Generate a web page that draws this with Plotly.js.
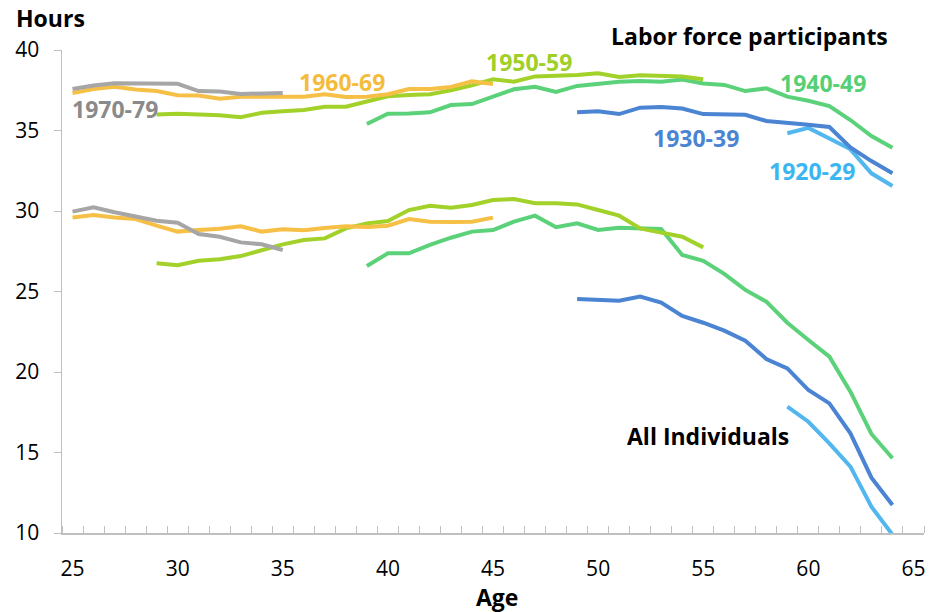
<!DOCTYPE html>
<html>
<head>
<meta charset="utf-8">
<script src="https://cdn.plot.ly/plotly-3.0.1.min.js"></script>
<style>html,body{margin:0;padding:0;background:#fff}#chart{width:932px;height:612px}</style>
</head>
<body>
<div id="chart"></div>
<script>
// Ages for each birth cohort
const ages1970 = [25,26,27,28,29,30,31,32,33,34,35];
const ages1960 = [25,26,27,28,29,30,31,32,33,34,35,36,37,38,39,40,41,42,43,44,45];
const ages1950 = [29,30,31,32,33,34,35,36,37,38,39,40,41,42,43,44,45,46,47,48,49,50,51,52,53,54,55];
const ages1940 = [39,40,41,42,43,44,45,46,47,48,49,50,51,52,53,54,55,56,57,58,59,60,61,62,63,64];
const ages1930 = [49,50,51,52,53,54,55,56,57,58,59,60,61,62,63,64];
const ages1920 = [59,60,61,62,63,64];

// Weekly hours, labor force participants
const lf1970 = [37.58,37.8,37.93,37.93,37.93,37.9,37.45,37.42,37.27,37.27,37.33];
const lf1960 = [37.33,37.58,37.72,37.55,37.45,37.19,37.17,36.98,37.1,37.1,37.13,37.1,37.25,37.08,37.1,37.25,37.58,37.58,37.7,38.05,37.89];
const lf1950 = [36.0,36.04,36.0,35.95,35.82,36.1,36.19,36.28,36.48,36.48,36.8,37.12,37.2,37.25,37.5,37.8,38.18,38.03,38.36,38.38,38.45,38.55,38.32,38.43,38.39,38.35,38.18];
const lf1940 = [35.4,36.04,36.06,36.13,36.58,36.64,37.1,37.56,37.72,37.39,37.77,37.93,38.03,38.07,38.03,38.17,37.92,37.83,37.45,37.62,37.1,36.85,36.52,35.65,34.66,33.93];
const lf1930 = [36.13,36.2,36.02,36.42,36.46,36.36,36.02,36.02,35.98,35.59,35.49,35.36,35.22,33.95,33.1,32.34];
const lf1920 = [34.83,35.16,34.5,33.83,32.34,31.55];

// Weekly hours, all individuals
const all1970 = [29.96,30.23,29.92,29.65,29.4,29.27,28.57,28.4,28.05,27.93,27.58];
const all1960 = [29.59,29.75,29.59,29.5,29.09,28.72,28.82,28.9,29.05,28.72,28.86,28.8,28.94,29.05,29.0,29.09,29.5,29.34,29.32,29.34,29.59];
const all1950 = [26.75,26.63,26.91,27.0,27.2,27.58,27.93,28.2,28.3,28.92,29.23,29.38,30.06,30.33,30.2,30.37,30.68,30.74,30.48,30.48,30.41,30.06,29.71,28.92,28.65,28.4,27.74];
const all1940 = [26.58,27.37,27.37,27.89,28.34,28.72,28.82,29.34,29.71,28.99,29.24,28.82,28.96,28.9,28.88,27.27,26.91,26.1,25.1,24.37,23.06,21.99,20.95,18.78,16.15,14.64];
const all1930 = [24.53,24.47,24.43,24.68,24.31,23.48,23.06,22.57,21.94,20.81,20.23,18.88,18.05,16.19,13.44,11.74];
const all1920 = [17.85,16.91,15.57,14.12,11.63,9.9];

const xTickVals = [25,30,35,40,45,50,55,60,65];
const yTickVals = [10,15,20,25,30,35,40];

const colors = {
  '1920-29': '#52b7ee',
  '1930-39': '#4a84d2',
  '1940-49': '#5bd27a',
  '1950-59': '#a2d12a',
  '1960-69': '#f6bf45',
  '1970-79': '#a6a6a6'
};
const labelColors = {
  '1920-29': '#3bb6f0',
  '1930-39': '#4a84d2',
  '1940-49': '#56cf75',
  '1950-59': '#a0cf26',
  '1960-69': '#f5bc3c',
  '1970-79': '#8a8a8a'
};

const series = [
  ['1920-29', ages1920, lf1920, all1920],
  ['1930-39', ages1930, lf1930, all1930],
  ['1940-49', ages1940, lf1940, all1940],
  ['1950-59', ages1950, lf1950, all1950],
  ['1960-69', ages1960, lf1960, all1960],
  ['1970-79', ages1970, lf1970, all1970]
];

const traces = [];
series.forEach(([name, ages, lf, all]) => {
  traces.push({x: ages, y: all, type: 'scatter', mode: 'lines', name: name,
    line: {color: colors[name], width: 4}, showlegend: false, hoverinfo: 'x+y'});
  traces.push({x: ages, y: lf, type: 'scatter', mode: 'lines', name: name,
    line: {color: colors[name], width: 4}, showlegend: false, hoverinfo: 'x+y'});
});

const FONT = 'Open Sans, Noto Sans, sans-serif';
const LSIZE = 23;
function lab(text, x, y, color) {
  return {text: text, x: x, y: y, xref: 'x', yref: 'y', showarrow: false,
    xanchor: 'center', yanchor: 'middle',
    font: {family: FONT, size: LSIZE, color: color}};
}
function plab(text, x, y) {
  return {text: text, x: x, y: y, xref: 'paper', yref: 'paper', showarrow: false,
    xanchor: 'center', yanchor: 'middle',
    font: {family: FONT, size: LSIZE, color: '#000'}};
}

const annotations = [
  plab('<b>Labor force participants</b>', 0.798, 1.029),
  lab('<b>1950-59</b>', 46.73, 39.25, labelColors['1950-59']),
  lab('<b>1960-69</b>', 37.84, 38.01, labelColors['1960-69']),
  lab('<b>1970-79</b>', 27.0, 36.34, labelColors['1970-79']),
  lab('<b>1940-49</b>', 60.71, 37.95, labelColors['1940-49']),
  lab('<b>1930-39</b>', 54.67, 34.53, labelColors['1930-39']),
  lab('<b>1920-29</b>', 60.19, 32.48, labelColors['1920-29']),
  lab('<b>All Individuals</b>', 55.24, 16.02, '#000'),
  plab('<b>Hours</b>', -0.0128, 1.066),
  plab('<b>Age</b>', 0.505, -0.1325)
];

const layout = {
  width: 932, height: 612,
  margin: {l: 62, r: 8, t: 50, b: 79},
  paper_bgcolor: '#fff', plot_bgcolor: '#fff',
  font: {family: FONT, size: 21, color: '#000'},
  xaxis: {
    range: [24.5, 65.5], tickmode: 'array', tickvals: xTickVals,
    ticks: '', showgrid: false, zeroline: false,
    showline: true, linecolor: '#bfbfbf', linewidth: 1.5,
    ticklabelstandoff: 16,
    tickfont: {family: FONT, size: 21, color: '#000'},
    minor: {tickmode: 'linear', tick0: 24.5, dtick: 1, ticks: 'inside', ticklen: 7,
      tickcolor: '#bfbfbf', tickwidth: 1, showgrid: false}
  },
  yaxis: {
    range: [10, 40], tickmode: 'array', tickvals: yTickVals,
    ticks: 'outside', ticklen: 7, tickcolor: '#bfbfbf', tickwidth: 1,
    showgrid: false, zeroline: false,
    showline: true, linecolor: '#bfbfbf', linewidth: 1.5,
    ticklabelstandoff: 10,
    tickfont: {family: FONT, size: 21, color: '#000'}
  },
  annotations: annotations,
  showlegend: false
};

Plotly.newPlot('chart', traces, layout, {displayModeBar: false, staticPlot: true});
</script>
</body>
</html>
